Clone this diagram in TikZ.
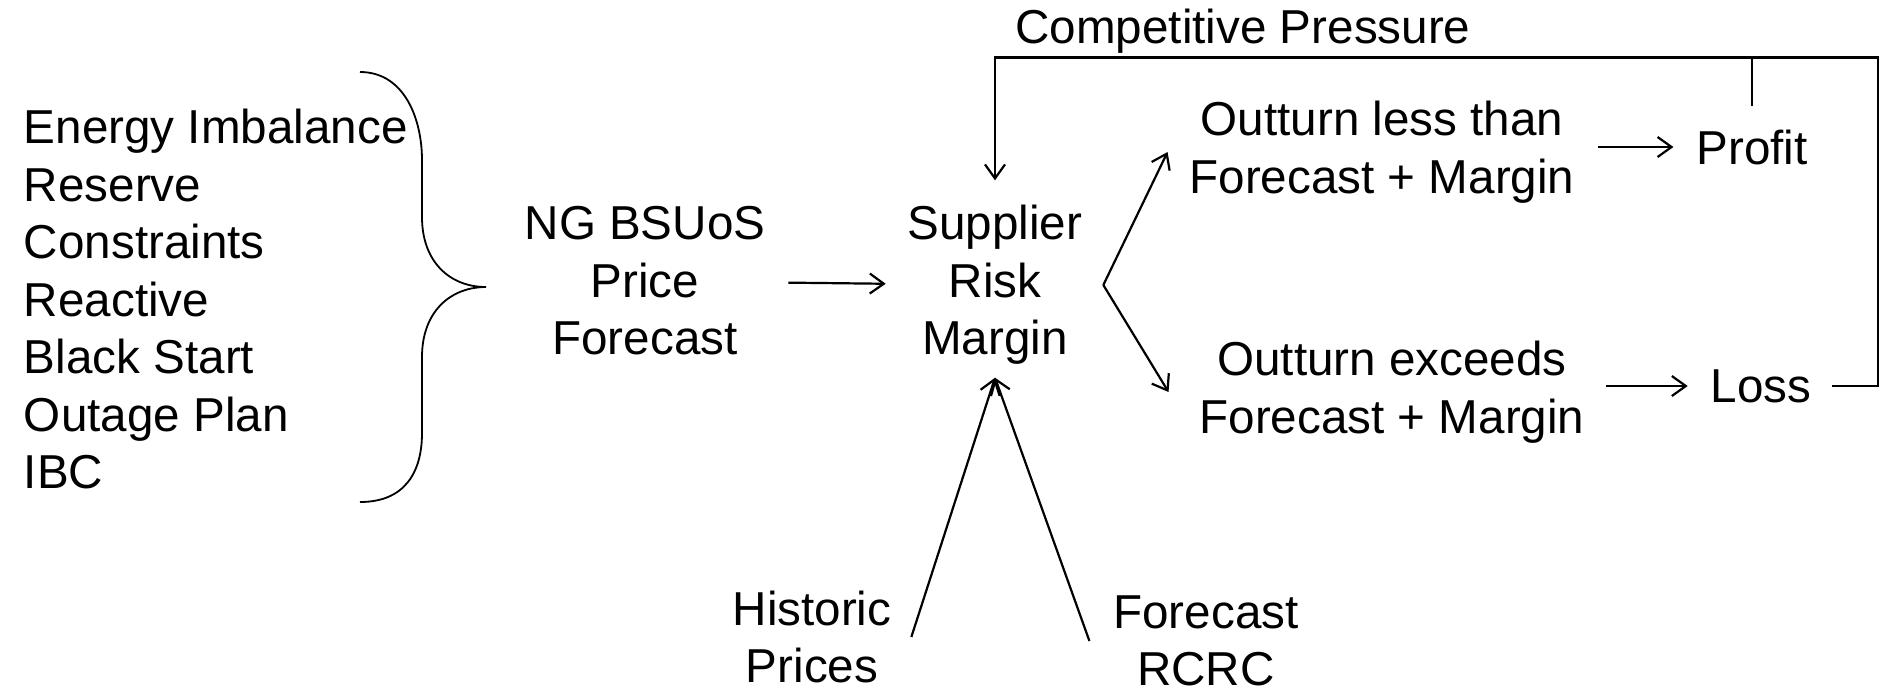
\documentclass[tikz,border=0pt]{standalone}
\usepackage{fontspec}
\setmainfont{Liberation Sans}
\usetikzlibrary{arrows.meta}

\begin{document}
\begin{tikzpicture}[x=0.5pt,y=-0.5pt,
	txt/.style={font=\fontsize{23.8}{28.75}\selectfont,align=center,inner sep=0,outer sep=0},
	ln/.style={line width=1.1pt},
	arr/.style={ln,-{Straight Barb[length=7pt,width=10pt]}}]
	\useasboundingbox (0,0) rectangle (1880,693);
	\node[txt,align=left,anchor=west] (src) at (24,299) {Energy Imbalance\\Reserve\\Constraints\\Reactive\\Black Start\\Outage Plan\\IBC};
	\node[txt] (ng) at (645,281) {NG BSUoS\\Price\\Forecast};
	\node[txt] (srm) at (995,285) {Supplier\\Risk\\Margin};
	\node[txt] (less) at (1382,152) {Outturn less than\\Forecast + Margin};
	\node[txt] (more) at (1392,392) {Outturn exceeds\\Forecast + Margin};
	\node[txt] (profit) at (1752,147) {Profit};
	\node[txt] (loss) at (1761,386) {Loss};
	\node[txt,anchor=base] (cp) at (1243,43) {Competitive Pressure};
	\node[txt] (hist) at (812,637) {Historic\\Prices};
	\node[txt] (rcrc) at (1206,641) {Forecast\\RCRC};
	\coordinate (fork) at ([xshift=10.5pt]srm.east);
	\coordinate (corner) at (1878,57.5);
	% brace
	\draw[line width=0.9pt] (360,72) .. controls (405,72) and (422,120) .. (422,160) -- (422,217)
		.. controls (422,262) and (450,287) .. (486,287)
		.. controls (450,287) and (422,312) .. (422,357) -- (422,433)
		.. controls (422,472) and (405,502) .. (360,502);
	\draw[arr,shorten <=11.5pt,shorten >=11pt] (ng) -- (srm);
	\draw[arr] (fork) -- ([xshift=-11pt]less.west);
	\draw[arr] (fork) -- ([xshift=-15.5pt]more.west);
	\draw[arr] ([xshift=12pt]less.east |- profit) -- ([xshift=-11.5pt]profit.west);
	\draw[arr] ([xshift=11pt]more.east |- loss) -- ([xshift=-11.5pt]loss.west);
	\draw[arr] ([xshift=10pt]hist.east) -- ([yshift=-6.5pt]srm.south);
	\draw[arr] ([xshift=-12pt]rcrc.west) -- ([yshift=-6.5pt]srm.south);
	% feedback loop
	\draw[arr,shorten >=12.5pt] ([xshift=10.5pt]loss.east) -| (corner) -| (srm.north);
	\draw[ln] ([yshift=12pt]profit.north) -- (profit.north |- corner);
\end{tikzpicture}
\end{document}
